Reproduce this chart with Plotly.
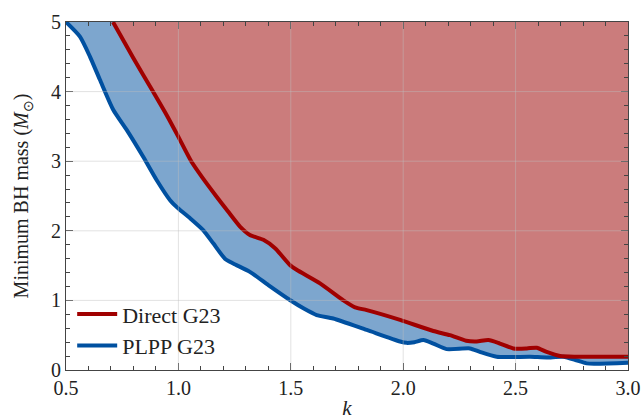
import plotly.graph_objects as go

# ---- data ----
direct_k = [0.709, 0.80, 0.887, 0.95, 1.0, 1.057, 1.11, 1.17, 1.22, 1.274, 1.318, 1.378, 1.43,
            1.496, 1.526, 1.63, 1.734, 1.786, 1.838, 1.986, 2.134, 2.208, 2.28, 2.327, 2.379,
            2.43, 2.49, 2.55, 2.594, 2.638, 2.698, 2.77, 3.0]
direct_m = [5.0, 4.48, 4.0, 3.65, 3.35, 3.0, 2.75, 2.49, 2.28, 2.06, 1.94, 1.87, 1.75,
            1.51, 1.44, 1.245, 1.0, 0.90, 0.86, 0.72, 0.56, 0.50, 0.42, 0.41, 0.43,
            0.38, 0.31, 0.31, 0.32, 0.26, 0.20, 0.19, 0.19]

plpp_k = [0.5, 0.562, 0.607, 0.651, 0.71, 0.77, 0.844, 0.903, 0.963, 1.0, 1.052, 1.11, 1.155,
          1.207, 1.244, 1.318, 1.40, 1.496, 1.56, 1.615, 1.689, 1.838, 1.986, 2.015, 2.05,
          2.09, 2.134, 2.193, 2.297, 2.341, 2.416, 2.564, 2.638, 2.712, 2.77, 2.816, 3.0]
plpp_m = [5.0, 4.79, 4.50, 4.17, 3.74, 3.45, 3.06, 2.73, 2.44, 2.32, 2.18, 2.01, 1.82,
          1.60, 1.53, 1.41, 1.22, 1.006, 0.88, 0.79, 0.74, 0.575, 0.41, 0.39, 0.40,
          0.43, 0.38, 0.30, 0.31, 0.26, 0.19, 0.19, 0.18, 0.19, 0.14, 0.095, 0.105]

x_ticks = [0.5, 1.0, 1.5, 2.0, 2.5, 3.0]
y_ticks = [0, 1, 2, 3, 4, 5]
X_RANGE = [0.5, 3.0]
Y_RANGE = [0, 5]

RED_LINE = "rgb(160,0,0)"
BLUE_LINE = "rgb(0,80,160)"
RED_FILL = "rgb(203,124,124)"
BLUE_FILL = "rgb(125,166,206)"
FRAME = "#444444"
FONT = "Liberation Serif"

fig = go.Figure()

# blue band: from PLPP curve up to the top of the plot
fig.add_trace(go.Scatter(x=plpp_k, y=[Y_RANGE[1]] * len(plpp_k), mode="lines",
                         line=dict(width=0, color=BLUE_FILL), showlegend=False, hoverinfo="skip"))
fig.add_trace(go.Scatter(x=plpp_k, y=plpp_m, mode="lines", fill="tonexty", fillcolor=BLUE_FILL,
                         line=dict(width=0, color=BLUE_FILL), showlegend=False, hoverinfo="skip"))
# red region: from Direct curve up to the top
fig.add_trace(go.Scatter(x=direct_k, y=[Y_RANGE[1]] * len(direct_k), mode="lines",
                         line=dict(width=0, color=RED_FILL), showlegend=False, hoverinfo="skip"))
fig.add_trace(go.Scatter(x=direct_k, y=direct_m, mode="lines", fill="tonexty", fillcolor=RED_FILL,
                         line=dict(width=0, color=RED_FILL), showlegend=False, hoverinfo="skip"))

# boundary lines
fig.add_trace(go.Scatter(x=plpp_k, y=plpp_m, mode="lines", name="PLPP G23",
                         line=dict(width=4, color=BLUE_LINE, shape="spline", smoothing=0.6)))
fig.add_trace(go.Scatter(x=direct_k, y=direct_m, mode="lines", name="Direct G23",
                         line=dict(width=4, color=RED_LINE, shape="spline", smoothing=0.6)))

# grid lines drawn above the fills
for xv in x_ticks[1:-1]:
    fig.add_shape(type="line", xref="x", yref="paper", x0=xv, x1=xv, y0=0, y1=1,
                  line=dict(color="rgba(190,190,190,0.45)", width=1), layer="above")
for yv in y_ticks[1:-1]:
    fig.add_shape(type="line", xref="paper", yref="y", x0=0, x1=1, y0=yv, y1=yv,
                  line=dict(color="rgba(190,190,190,0.45)", width=1), layer="above")

axis_common = dict(
    showline=True, linecolor=FRAME, linewidth=1.2, mirror="ticks",
    ticks="inside", ticklen=7, tickwidth=1.2, tickcolor=FRAME,
    showgrid=False, zeroline=False, automargin=False,
    tickfont=dict(family=FONT, size=20, color="#222"),
    layer="above traces",
)

fig.update_xaxes(range=X_RANGE, tickvals=x_ticks, ticktext=[f"{v:.1f}" for v in x_ticks],
                 minor=dict(dtick=0.1, tick0=0.5, ticks="inside", ticklen=4, tickcolor=FRAME, showgrid=False),
                 title=dict(text="<i>k</i>", font=dict(family=FONT, size=21, color="#222"), standoff=6),
                 **axis_common)
fig.update_yaxes(range=Y_RANGE, tickvals=y_ticks,
                 minor=dict(dtick=0.2, tick0=0, ticks="inside", ticklen=4, tickcolor=FRAME, showgrid=False),
                 title=dict(text="Minimum BH mass (<i>M</i><sub>⊙</sub>)",
                            font=dict(family=FONT, size=20, color="#222"), standoff=16),
                 **axis_common)

fig.update_layout(
    width=643, height=420,
    margin=dict(l=66, r=15, t=22, b=50),
    paper_bgcolor="white", plot_bgcolor="white",
    legend=dict(x=0.011, y=0.008, xanchor="left", yanchor="bottom",
                bgcolor="rgba(0,0,0,0)", traceorder="reversed",
                font=dict(family=FONT, size=22, color="#222"),
                itemwidth=40, tracegroupgap=0),
    showlegend=True,
)

fig.write_html("out.html")
